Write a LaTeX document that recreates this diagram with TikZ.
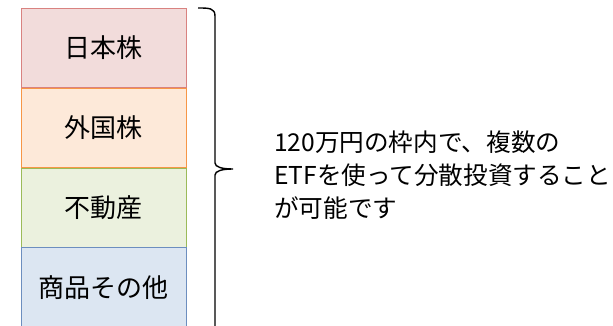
\documentclass[tikz,border=0pt]{standalone}
\usepackage{fontspec}
\setmainfont{Noto Sans CJK JP}
\usetikzlibrary{positioning}
\definecolor{JPFill}{RGB}{242, 220, 219}
\definecolor{JPLine}{RGB}{217, 130, 128}
\definecolor{FRFill}{RGB}{253, 233, 217}
\definecolor{FRLine}{RGB}{247, 150, 70}
\definecolor{REFill}{RGB}{235, 241, 222}
\definecolor{RELine}{RGB}{155, 187, 89}
\definecolor{OTFill}{RGB}{220, 230, 242}
\definecolor{OTLine}{RGB}{108, 142, 191}
\tikzset{
  assetbox/.style={draw, line width=0.8pt, minimum width=165pt, minimum height=79pt,
    inner sep=0pt, font=\fontsize{26}{30}\selectfont},
  notetext/.style={anchor=west, align=left, inner sep=0pt, font=\fontsize{24.6}{33}\selectfont}
}

\begin{document}
\begin{tikzpicture}[x=1pt, y=-1pt]
  \useasboundingbox (0,0) rectangle (613,326);
  % asset classes, stacked
  \node[assetbox, fill=JPFill, draw=JPLine, anchor=north west] (jpstock) at (21,8) {日本株};
  \node[assetbox, fill=FRFill, draw=FRLine, below=0pt of jpstock] (frstock) {外国株};
  \node[assetbox, fill=REFill, draw=RELine, below=0pt of frstock] (realty) {不動産};
  \node[assetbox, fill=OTFill, draw=OTLine, below=0pt of realty] (others) {商品その他};
  % brace
  \draw[line width=1.4pt]
    (198,8) .. controls (209,8) and (215,8) .. (215,16) -- (215,163)
    .. controls (215,167) and (222,169) .. (233,169)
    .. controls (222,169) and (215,171) .. (215,175) -- (215,332)
    .. controls (215,340) and (209,340) .. (198,340);
  \node[notetext] (note) at (274,175) {120万円の枠内で、複数の\\ETFを使って分散投資すること\\が可能です};
\end{tikzpicture}
\end{document}
